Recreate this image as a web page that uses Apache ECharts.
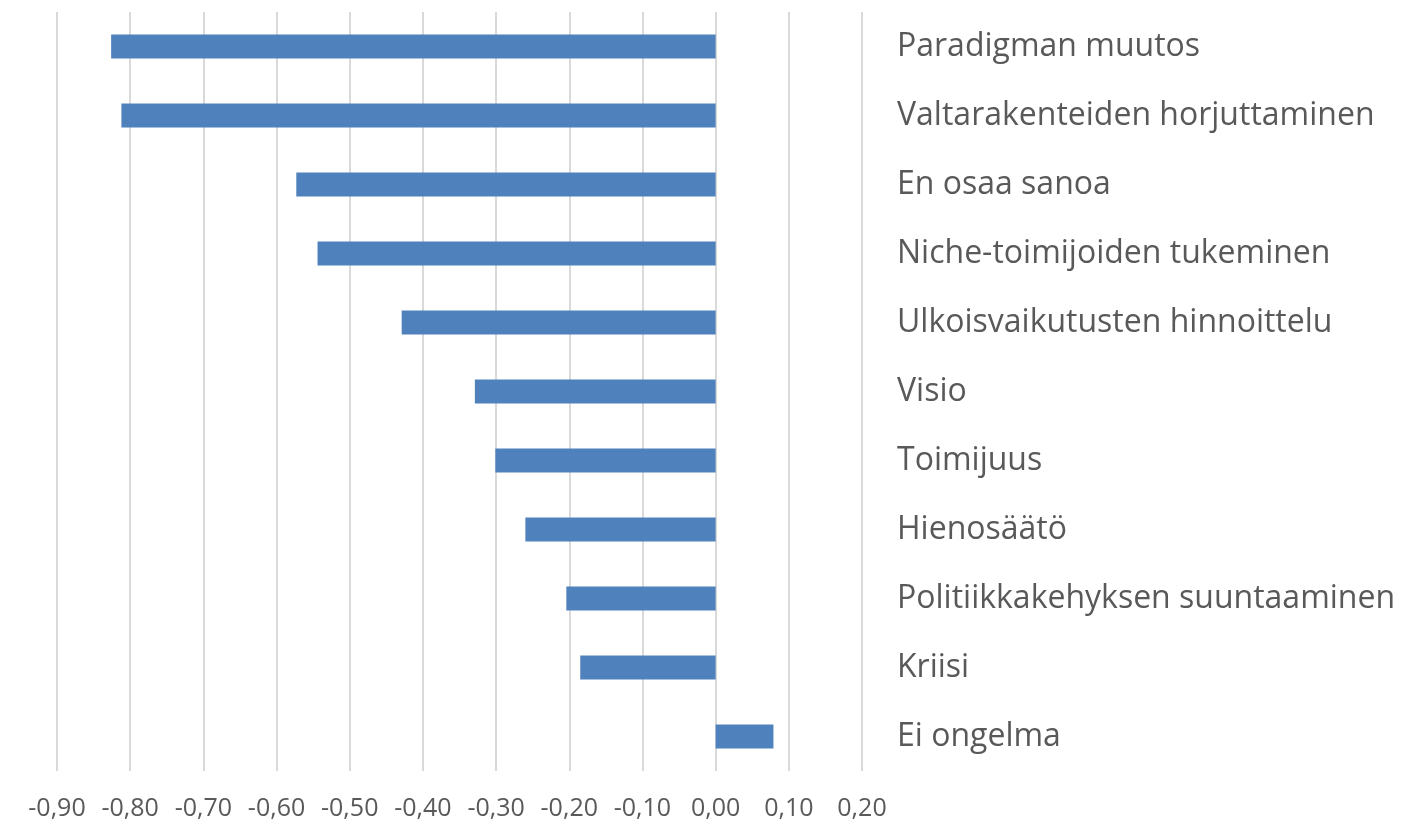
<!DOCTYPE html>
<html>
<head>
<meta charset="utf-8">
<script src="https://cdn.jsdelivr.net/npm/echarts@6/dist/echarts.min.js"></script>
<style>
  html, body { margin: 0; padding: 0; background: #fff; }
  #chart { width: 1405px; height: 821px; }
</style>
</head>
<body>
<div id="chart"></div>
<script>
// 类别（从上到下）
const categories = [
  'Paradigman muutos',
  'Valtarakenteiden horjuttaminen',
  'En osaa sanoa',
  'Niche-toimijoiden tukeminen',
  'Ulkoisvaikutusten hinnoittelu',
  'Visio',
  'Toimijuus',
  'Hienosäätö',
  'Politiikkakehyksen suuntaaminen',
  'Kriisi',
  'Ei ongelma'
]

// 数值
const values = [-0.826, -0.812, -0.573, -0.544, -0.429, -0.329, -0.301, -0.260, -0.204, -0.185, 0.079]

// X 轴刻度范围
const xMin = -0.9
const xMax = 0.2
const xStep = 0.1

const chart = echarts.init(document.getElementById('chart'))

const option = {
  animation: false,
  grid: {
    left: 57,
    right: 1405 - 862,
    top: 12,
    bottom: 50,
    containLabel: false
  },
  xAxis: {
    type: 'value',
    min: xMin,
    max: xMax,
    interval: xStep,
    axisLine: { show: false },
    axisTick: { show: false },
    axisLabel: {
      color: '#595959',
      fontSize: 25,
      fontFamily: 'Open Sans, sans-serif',
      margin: 25,
      formatter: (v) => v.toFixed(2).replace('.', ',')
    },
    splitLine: {
      show: true,
      lineStyle: { color: '#d9d9d9', width: 2 }
    }
  },
  yAxis: {
    type: 'category',
    data: categories,
    inverse: true,
    position: 'right',
    axisLine: { show: false },
    axisTick: { show: false },
    axisLabel: {
      color: '#595959',
      fontSize: 32,
      fontFamily: 'Open Sans, sans-serif',
      margin: 35,
      align: 'left'
    },
    splitLine: { show: false }
  },
  series: [{
    type: 'bar',
    data: values,
    barWidth: 24,
    itemStyle: { color: '#4f81bd' }
  }]
}

chart.setOption(option)
</script>
</body>
</html>
